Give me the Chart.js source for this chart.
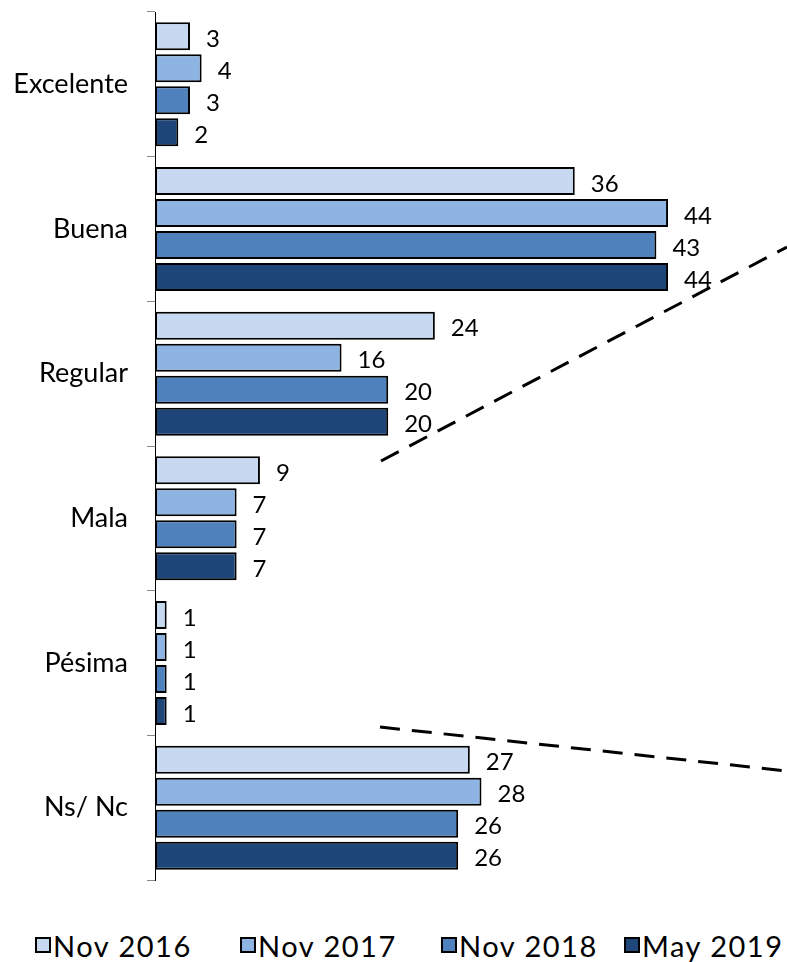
<!DOCTYPE html>
<html>
<head>
<meta charset="utf-8">
<script src="https://cdn.jsdelivr.net/npm/chart.js@4"></script>
<style>
  html, body { margin: 0; padding: 0; background: #fff; }
  #wrap { position: relative; width: 787px; height: 962px; }
  #chart { position: absolute; left: 0; top: 0; }
  #legend {
    position: absolute; left: 0; top: 925px; width: 787px; height: 40px;
    font-family: Lato, sans-serif; font-size: 29px; color: #000;
  }
  .item {
    position: absolute; top: 0; display: flex; align-items: center; height: 40px;
    letter-spacing: 1.5px; white-space: nowrap;
  }
  .box { width: 12px; height: 12px; border: 2px solid #000; margin-right: 2px; }
</style>
</head>
<body>
<div id="wrap">
  <canvas id="chart" width="787" height="900"></canvas>
  <div id="legend"></div>
</div>
<script>
// categories and series
const categories = ["Excelente", "Buena", "Regular", "Mala", "Pésima", "Ns/ Nc"];
const seriesNames = ["Nov 2016", "Nov 2017", "Nov 2018", "May 2019"];
const nov2016 = [3, 36, 24, 9, 1, 27];
const nov2017 = [4, 44, 16, 7, 1, 28];
const nov2018 = [3, 43, 20, 7, 1, 26];
const may2019 = [2, 44, 20, 7, 1, 26];
const colors = ["#c6d9f1", "#8db4e2", "#4f81bd", "#1f4679"];

const seriesValues = [nov2016, nov2017, nov2018, may2019];

// value labels to the right of each bar
const valueLabels = {
  id: "valueLabels",
  afterDatasetsDraw(chart) {
    const ctx = chart.ctx;
    ctx.save();
    ctx.fillStyle = "#000";
    ctx.font = "24px Lato, sans-serif";
    ctx.textAlign = "left";
    ctx.textBaseline = "middle";
    chart.data.datasets.forEach((ds, i) => {
      chart.getDatasetMeta(i).data.forEach((bar, j) => {
        ctx.fillText(ds.data[j], bar.x + 16, bar.y + 3);
      });
    });
    ctx.restore();
  },
};

// the two dashed decorative lines
const dashedLines = {
  id: "dashedLines",
  afterDraw(chart) {
    const ctx = chart.ctx;
    ctx.save();
    ctx.strokeStyle = "#000";
    ctx.lineWidth = 3;
    ctx.setLineDash([20, 12]);
    ctx.beginPath();
    ctx.moveTo(381, 461);
    ctx.lineTo(787, 247);
    ctx.moveTo(380, 727);
    ctx.lineTo(787, 771);
    ctx.stroke();
    ctx.restore();
  },
};

const ctx = document.getElementById("chart").getContext("2d");
new Chart(ctx, {
  type: "bar",
  data: {
    labels: categories,
    datasets: seriesNames.map((name, i) => ({
      label: name,
      data: seriesValues[i],
      backgroundColor: colors[i],
      borderColor: "#000",
      borderWidth: 2,
      borderSkipped: false,
      categoryPercentage: 0.885,
      barPercentage: 0.875,
    })),
  },
  options: {
    indexAxis: "y",
    responsive: false,
    animation: false,
    layout: { padding: { top: 12, right: 49, bottom: 20, left: 0 } },
    plugins: {
      legend: { display: false },
      tooltip: { enabled: false },
    },
    scales: {
      x: { display: false, min: 0, max: 50 },
      y: {
        afterFit(scale) {
          scale.width = 155;
          scale.paddingTop = 0;
          scale.paddingBottom = 0;
        },
        border: { color: "#000", width: 1 },
        grid: {
          offset: true,
          drawOnChartArea: false,
          drawTicks: true,
          tickLength: 8,
          tickColor: "#888",
        },
        ticks: {
          color: "#000",
          padding: 19,
          font: { family: "Lato, sans-serif", size: 27 },
        },
      },
    },
  },
  plugins: [valueLabels, dashedLines],
});

// legend
const legendLeft = [35, 240, 441, 624];
const legend = document.getElementById("legend");
seriesNames.forEach((name, i) => {
  const item = document.createElement("div");
  item.className = "item";
  item.style.left = legendLeft[i] + "px";
  item.innerHTML = `<span class="box" style="background:${colors[i]}"></span><span>${name}</span>`;
  legend.appendChild(item);
});
</script>
</body>
</html>
